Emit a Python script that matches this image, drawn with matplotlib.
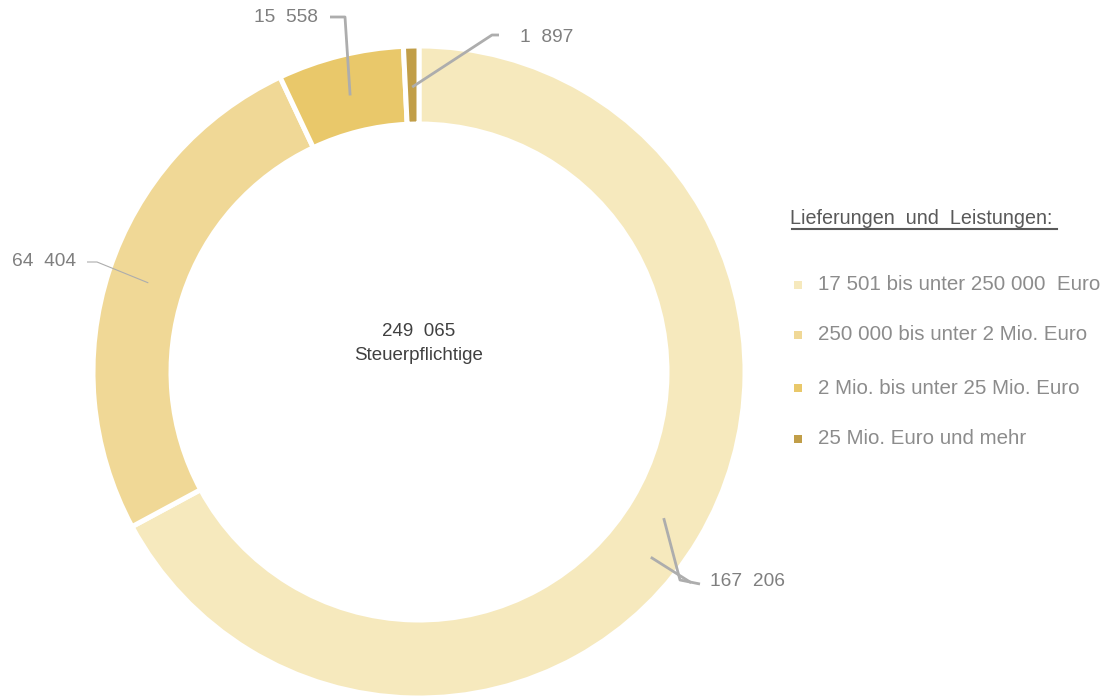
import numpy as np
import matplotlib.pyplot as plt

plt.rcParams['font.family'] = ['Liberation Sans', 'DejaVu Sans']

# data
categories = ["17 501 bis unter 250 000  Euro",
              "250 000 bis unter 2 Mio. Euro",
              "2 Mio. bis unter 25 Mio. Euro",
              "25 Mio. Euro und mehr"]
values = [167206, 64404, 15558, 1897]
value_labels = ["167  206", "64  404", "15  558", "1  897"]
colors = ["#F6E9BD", "#F0D896", "#E9C86A", "#C19E48"]
total_label = "249  065"
center_label = "Steuerpflichtige"
legend_title = "Lieferungen  und  Leistungen:"

W, H = 1117, 698
fig = plt.figure(figsize=(W / 100, H / 100), dpi=100)
ax = fig.add_axes([0, 0, 1, 1])
ax.set_xlim(0, W)
ax.set_ylim(0, H)
ax.set_aspect('equal')
ax.axis('off')

cx, cy, R = 419, H - 372, 326
ring = 78
wedges, _ = ax.pie(values, colors=colors, startangle=90, counterclock=False,
                   center=(cx, cy), radius=R,
                   wedgeprops=dict(width=ring, edgecolor='white', linewidth=3.6))
ax.set_xlim(0, W)
ax.set_ylim(0, H)

# leader lines + labels (elbow, end, text anchor)
gray_line = "#ADADAD"
lab_col = "#7F7F7F"
layout = [
    ((680, 580), (700, 584), (710, 582), 'left'),
    ((97, 262), (87, 262), (76, 262), 'right'),
    ((345, 17), (330, 17), (318, 18), 'right'),
    ((492, 35), (499, 35), (520, 37), 'left'),
]
for w, lab, (elb, end, tpos, ha) in zip(wedges, value_labels, layout):
    mid = np.deg2rad((w.theta1 + w.theta2) / 2)
    r0 = R - ring / 2 - 2
    p0 = (cx + r0 * np.cos(mid), cy + r0 * np.sin(mid))
    lw = 0.8 if elb[0] < 200 else 2
    ax.plot([p0[0], elb[0], end[0]], [p0[1], H - elb[1], H - end[1]],
            color=gray_line, lw=lw, solid_capstyle='butt')
    ax.text(tpos[0], H - tpos[1], lab, ha=ha, va='center', fontsize=13.8,
            color=lab_col)
# extra stray leader of the first label
ax.plot([652, 690], [H - 558, H - 582], color=gray_line, lw=2)

ax.text(cx, H - 331, total_label, ha='center', va='center', fontsize=13.5,
        color='#404040')
ax.text(cx, H - 356, center_label, ha='center', va='center', fontsize=13.5,
        color='#404040')

# legend
ax.text(790, H - 218, legend_title, ha='left', va='center', fontsize=14.2,
        color='#595959')
ax.plot([792, 1057], [H - 229, H - 229], color='#595959', lw=1.5)
ys = [285, 335, 388, 439]
for c, cat, y in zip(colors, categories, ys):
    ax.scatter([798], [H - y], marker='s', s=30, color=c, linewidths=0)
    ax.text(818, H - y, cat, ha='left', va='center', fontsize=14.8,
            color='#8C8C8C')

fig.savefig('out.png', dpi=100, facecolor='white')
